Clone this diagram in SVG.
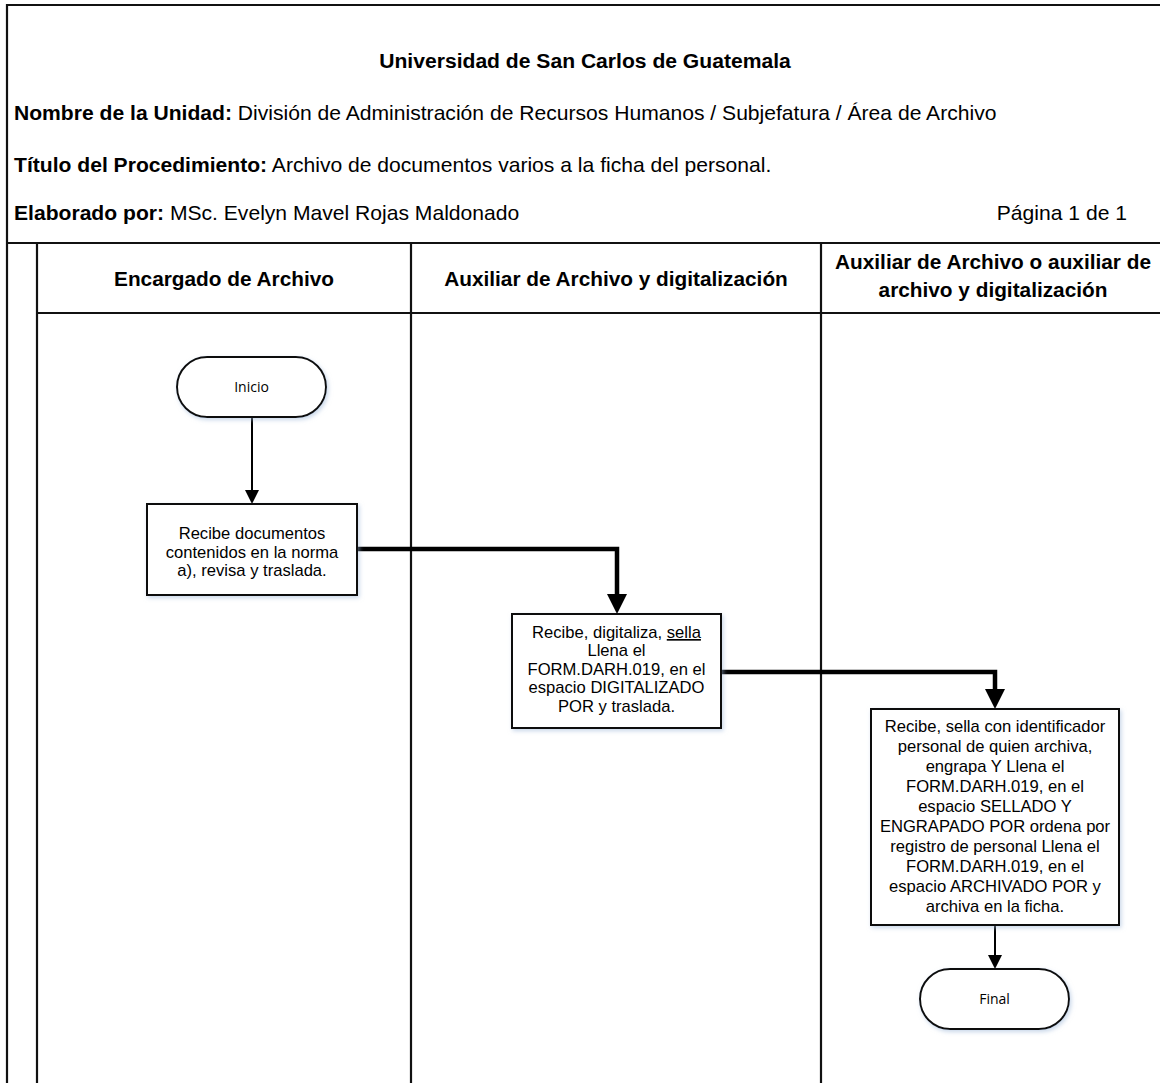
<svg xmlns="http://www.w3.org/2000/svg" width="1160" height="1083" viewBox="0 0 1160 1083">
  <defs>
    <style>
      .frame { stroke: #111; stroke-width: 2.2; fill: none; }
      .hdr { font-family: "Liberation Sans", Arial, sans-serif; font-size: 21.1px; fill: #000; }
      .b { font-weight: bold; }
      .lane { font-family: "Liberation Sans", Arial, sans-serif; font-size: 20.8px; font-weight: bold; fill: #000; text-anchor: middle; }
      .shape { fill: #fff; stroke: #111; stroke-width: 2; filter: url(#sh); }
      .txt { font-family: "Liberation Sans", Arial, sans-serif; font-size: 16.6px; fill: #000; text-anchor: middle; }
      .term { font-family: "Open Sans", "Noto Sans", sans-serif; font-size: 14px; fill: #000; text-anchor: middle; }
      .thin { stroke: #000; stroke-width: 2; fill: none; }
      .thick { stroke: #000; stroke-width: 4.5; fill: none; stroke-linejoin: miter; }
    </style>
    <filter id="sh" x="-10%" y="-10%" width="125%" height="130%">
      <feDropShadow dx="1.5" dy="2" stdDeviation="2" flood-color="#9db7d8" flood-opacity="0.55"/>
    </filter>
    <marker id="aThin" markerUnits="userSpaceOnUse" markerWidth="14" markerHeight="14" refX="0" refY="7" orient="auto" viewBox="0 0 14 14">
      <path d="M0,0 L14,7 L0,14 Z" fill="#000"/>
    </marker>
    <marker id="aThick" markerUnits="userSpaceOnUse" markerWidth="20" markerHeight="20" refX="0" refY="10" orient="auto" viewBox="0 0 20 20">
      <path d="M0,0 L20,10 L0,20 Z" fill="#000"/>
    </marker>
  </defs>

  <rect x="0" y="0" width="1160" height="1083" fill="#fff"/>

  <g id="frame">
    <path class="frame" d="M1160,5 H7 V1083"/>
    <path class="frame" d="M7,243 H1160"/>
    <path class="frame" d="M37,313 H1160"/>
    <path class="frame" d="M37,243 V1083"/>
    <path class="frame" d="M411,243 V1083"/>
    <path class="frame" d="M821,243 V1083"/>
  </g>

  <g id="header">
    <text class="hdr b" x="585" y="68" text-anchor="middle">Universidad de San Carlos de Guatemala</text>
    <text class="hdr" x="14" y="120"><tspan class="b">Nombre de la Unidad:</tspan> División de Administración de Recursos Humanos / Subjefatura / Área de Archivo</text>
    <text class="hdr" x="14" y="172"><tspan class="b">Título del Procedimiento:</tspan> Archivo de documentos varios a la ficha del personal.</text>
    <text class="hdr" x="14" y="220"><tspan class="b">Elaborado por:</tspan> MSc. Evelyn Mavel Rojas Maldonado</text>
    <text class="hdr" x="1127" y="220" text-anchor="end">Página 1 de 1</text>
  </g>

  <g id="lanes">
    <text class="lane" x="224" y="286">Encargado de Archivo</text>
    <text class="lane" x="616" y="286">Auxiliar de Archivo y digitalización</text>
    <text class="lane" x="993" y="269">Auxiliar de Archivo o auxiliar de</text>
    <text class="lane" x="993" y="297">archivo y digitalización</text>
  </g>

  <g id="connectors">
    <path class="thin" d="M252,418 V490" marker-end="url(#aThin)"/>
    <path class="thick" d="M355,549 H617 V594" marker-end="url(#aThick)"/>
    <path class="thick" d="M720,672 H995 V689" marker-end="url(#aThick)"/>
    <path class="thin" d="M995,926 V955" marker-end="url(#aThin)"/>
  </g>

  <g id="inicio">
    <rect class="shape" x="177" y="357" width="149" height="60" rx="30" ry="30"/>
    <text class="term" x="251.5" y="392">Inicio</text>
  </g>

  <g id="paso1">
    <rect class="shape" x="147" y="504" width="210" height="91"/>
    <text class="txt" x="252" y="539">Recibe documentos</text>
    <text class="txt" x="252" y="558">contenidos en la norma</text>
    <text class="txt" x="252" y="576">a), revisa y traslada.</text>
  </g>

  <g id="paso2">
    <rect class="shape" x="512" y="614" width="209" height="114"/>
    <text class="txt" x="616.5" y="638">Recibe, digitaliza, <tspan text-decoration="underline">sella</tspan></text>
    <text class="txt" x="616.5" y="656">Llena el</text>
    <text class="txt" x="616.5" y="675">FORM.DARH.019, en el</text>
    <text class="txt" x="616.5" y="693">espacio DIGITALIZADO</text>
    <text class="txt" x="616.5" y="712">POR y traslada.</text>
  </g>

  <g id="paso3">
    <rect class="shape" x="871" y="709" width="248" height="216"/>
    <text class="txt" x="995" y="732">Recibe, sella con identificador</text>
    <text class="txt" x="995" y="752">personal de quien archiva,</text>
    <text class="txt" x="995" y="772">engrapa Y Llena el</text>
    <text class="txt" x="995" y="792">FORM.DARH.019, en el</text>
    <text class="txt" x="995" y="812">espacio SELLADO Y</text>
    <text class="txt" x="995" y="832">ENGRAPADO POR ordena por</text>
    <text class="txt" x="995" y="852">registro de personal Llena el</text>
    <text class="txt" x="995" y="872">FORM.DARH.019, en el</text>
    <text class="txt" x="995" y="892">espacio ARCHIVADO POR  y</text>
    <text class="txt" x="995" y="912">archiva en la ficha.</text>
  </g>

  <g id="final">
    <rect class="shape" x="920" y="969" width="149" height="60" rx="30" ry="30"/>
    <text class="term" x="994.5" y="1004">Final</text>
  </g>
</svg>
